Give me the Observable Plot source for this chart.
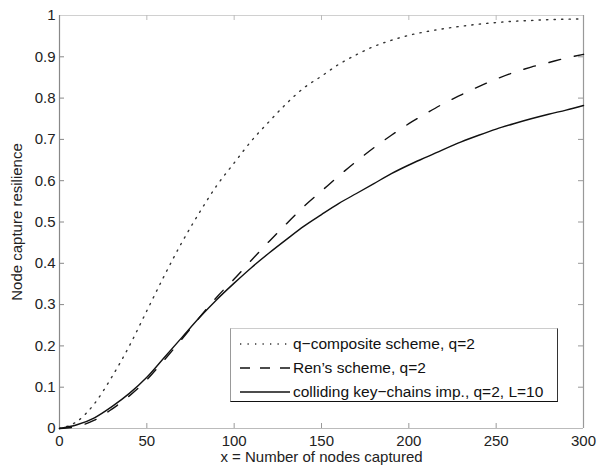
<!DOCTYPE html>
<html>
<head>
<meta charset="utf-8">
<script src="https://cdn.jsdelivr.net/npm/d3@7"></script>
<script src="https://cdn.jsdelivr.net/npm/@observablehq/plot@0.6"></script>
<style>
  html, body { margin: 0; padding: 0; background: #fff; }
  #wrap { position: relative; width: 597px; height: 470px; font-family: "Liberation Sans", Arial, sans-serif; }
  #wrap > svg { position: absolute; left: 0; top: 0; }
  #legend { position: absolute; left: 230px; top: 328px; width: 326px; height: 72px; background: #fff;
    border-top: 1px solid #ccc; border-left: 1px solid #999; border-right: 1px solid #333; border-bottom: 1px solid #111; }
  .row { position: absolute; left: 0; height: 20px; display: flex; align-items: center; font-size: 15.5px; color: #111; white-space: nowrap; }
  .row svg { display: block; margin-left: 9px; margin-right: 3px; flex: none; }
</style>
</head>
<body>
<div id="wrap"></div>
<script>
const xs = [0, 10, 20, 30, 40, 50, 60, 70, 80, 90, 100, 110, 120, 130, 140, 150, 160, 170, 180, 190, 200, 210, 220, 230, 240, 250, 260, 270, 280, 290, 300];
const qComposite = [0, 0.017, 0.06, 0.125, 0.2, 0.285, 0.37, 0.45, 0.522, 0.588, 0.643, 0.697, 0.743, 0.787, 0.825, 0.853, 0.882, 0.905, 0.925, 0.94, 0.952, 0.961, 0.968, 0.974, 0.979, 0.983, 0.986, 0.988, 0.99, 0.991, 0.992];
const ren = [0, 0.005, 0.02, 0.047, 0.079, 0.118, 0.166, 0.216, 0.268, 0.318, 0.362, 0.408, 0.453, 0.496, 0.538, 0.575, 0.612, 0.647, 0.68, 0.71, 0.738, 0.763, 0.787, 0.808, 0.828, 0.846, 0.862, 0.875, 0.886, 0.897, 0.906];
const colliding = [0, 0.009, 0.026, 0.053, 0.085, 0.124, 0.172, 0.22, 0.268, 0.312, 0.352, 0.39, 0.425, 0.458, 0.49, 0.518, 0.545, 0.569, 0.593, 0.617, 0.638, 0.657, 0.676, 0.694, 0.71, 0.725, 0.738, 0.75, 0.761, 0.771, 0.782];
const seriesNames = ["q\u2212composite scheme, q=2", "Ren\u2019s scheme, q=2", "colliding key\u2212chains imp., q=2, L=10"];
const xTicks = [0, 50, 100, 150, 200, 250, 300];
const yTicks = [0, 0.1, 0.2, 0.3, 0.4, 0.5, 0.6, 0.7, 0.8, 0.9, 1];
const xLabel = "x = Number of nodes captured";
const yLabel = "Node capture resilience";

const styles = [
  {stroke: "#333", strokeWidth: 1.4, strokeDasharray: "1.3,6.2", sample: "1.3,6.2"},
  {stroke: "#111", strokeWidth: 1.4, strokeDasharray: "12,14", sample: "10,10"},
  {stroke: "#111", strokeWidth: 1.4, strokeDasharray: null, sample: null}
];
const seriesValues = [qComposite, ren, colliding];
const tables = seriesValues.map(vals => xs.map((x, i) => ({x, y: vals[i]})));

const W = 597, H = 470, mL = 59, mR = 14, mT = 15, mB = 42;
const tickLen = 5;
const xPerPx = 300 / (W - mL - mR);
const yPerPx = 1 / (H - mT - mB);
const innerX = xTicks.slice(1, -1);
const innerY = yTicks.slice(1, -1);

const chart = Plot.plot({
  width: W, height: H,
  marginLeft: mL, marginRight: mR, marginTop: mT, marginBottom: mB,
  style: {fontFamily: "'Liberation Sans', Arial, sans-serif", fontSize: "15px", color: "#222", background: "transparent"},
  x: {domain: [0, 300]},
  y: {domain: [0, 1]},
  marks: [
    // frame
    Plot.ruleY([1], {stroke: "#d0d0d0", strokeWidth: 1}),
    Plot.ruleY([0], {stroke: "#bbb", strokeWidth: 1}),
    Plot.ruleX([0], {stroke: "#888", strokeWidth: 1.2}),
    Plot.ruleX([300], {stroke: "#999", strokeWidth: 1.2}),
    // inward ticks
    Plot.ruleX(innerX, {x: d => d, y1: 0, y2: tickLen * yPerPx, stroke: "#999"}),
    Plot.ruleX(innerX, {x: d => d, y1: 1, y2: 1 - tickLen * yPerPx, stroke: "#bbb"}),
    Plot.ruleY(innerY, {y: d => d, x1: 0, x2: tickLen * xPerPx, stroke: "#888"}),
    Plot.ruleY(innerY, {y: d => d, x1: 300, x2: 300 - tickLen * xPerPx, stroke: "#999"}),
    Plot.axisX({ticks: xTicks, tickSize: 0, tickPadding: 7, label: null, tickFormat: d => String(d), fill: "#222", fontSize: 15}),
    Plot.axisY({ticks: yTicks, tickSize: 0, tickPadding: 4, label: null, tickFormat: d => String(+d.toFixed(1)), fill: "#222", fontSize: 15}),
    // curves
    ...tables.map((t, i) => Plot.line(t, {x: "x", y: "y", stroke: styles[i].stroke, strokeWidth: styles[i].strokeWidth, strokeDasharray: styles[i].strokeDasharray, curve: "monotone-x"})),
    // axis labels
    Plot.text([xLabel], {frameAnchor: "bottom", textAnchor: "middle", dy: 33, fontSize: 15, fill: "#222"}),
    Plot.text([yLabel], {frameAnchor: "left", textAnchor: "middle", dx: -42, rotate: -90, fontSize: 15, fill: "#222"})
  ]
});

const wrap = document.getElementById("wrap");
wrap.appendChild(chart);

const legend = document.createElement("div");
legend.id = "legend";
const rowTops = [5, 29, 53];
seriesNames.forEach((name, i) => {
  const row = document.createElement("div");
  row.className = "row";
  row.style.top = rowTops[i] + "px";
  const ns = "http://www.w3.org/2000/svg";
  const s = document.createElementNS(ns, "svg");
  s.setAttribute("width", 50); s.setAttribute("height", 4);
  const ln = document.createElementNS(ns, "line");
  ln.setAttribute("x1", 0); ln.setAttribute("x2", 50); ln.setAttribute("y1", 2); ln.setAttribute("y2", 2);
  ln.setAttribute("stroke", styles[i].stroke);
  ln.setAttribute("stroke-width", styles[i].strokeWidth);
  if (styles[i].sample) ln.setAttribute("stroke-dasharray", styles[i].sample);
  s.appendChild(ln);
  row.appendChild(s);
  const span = document.createElement("span");
  span.textContent = name;
  row.appendChild(span);
  legend.appendChild(row);
});
wrap.appendChild(legend);
</script>
</body>
</html>
